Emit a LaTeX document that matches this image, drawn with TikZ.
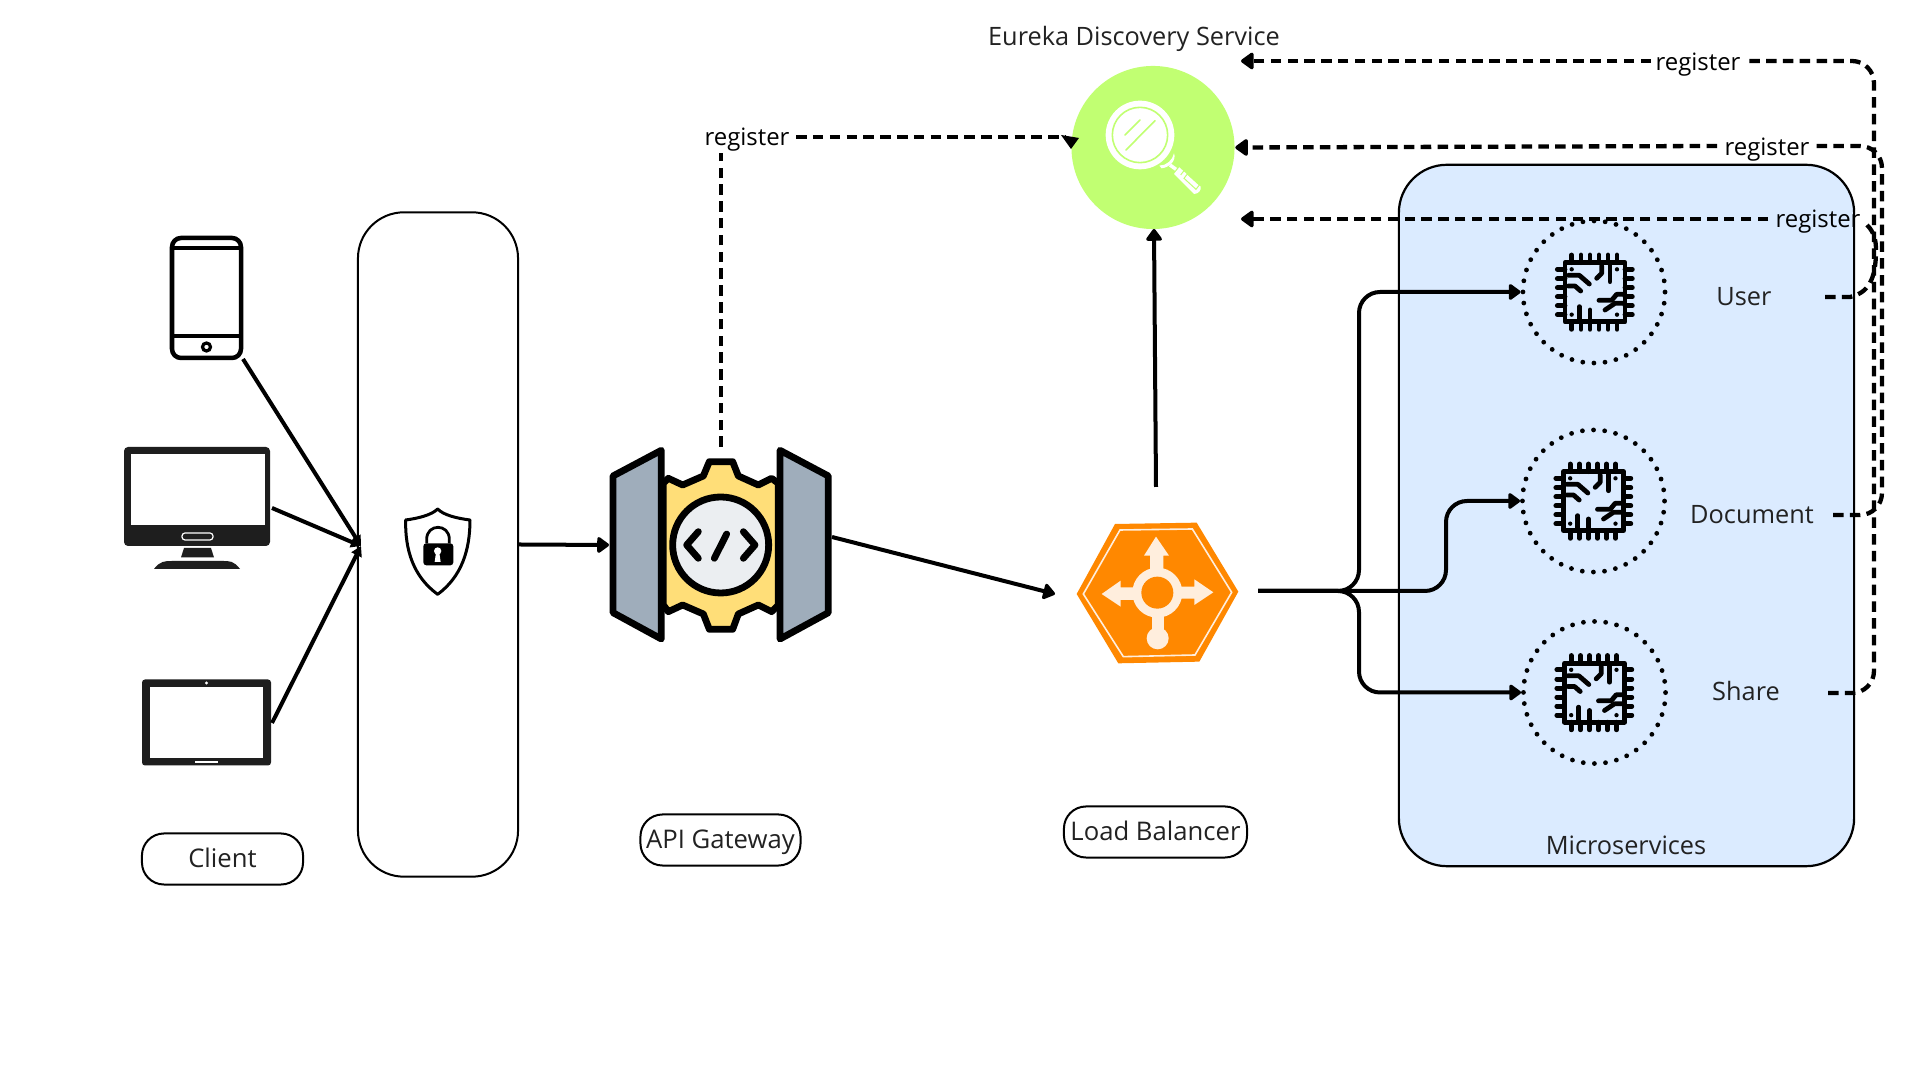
\documentclass[tikz,border=0pt]{standalone}
\usepackage{fontspec}
\setmainfont{Open Sans}
\usetikzlibrary{arrows.meta}
\definecolor{eurekagreen}{HTML}{C1FF72}
\definecolor{msblue}{HTML}{DBEBFF}
\definecolor{lborange}{HTML}{FF8800}
\definecolor{lbcream}{HTML}{FFEEDD}
\definecolor{gwgrey}{HTML}{9FADBB}
\definecolor{gwyellow}{HTML}{FFDE78}
\definecolor{gwlens}{HTML}{EBEEF1}
\definecolor{ink}{HTML}{222222}
\definecolor{devdark}{HTML}{1E1E1E}
\tikzset{
  wire/.style={line width=.04cm,black},
  solidarrow/.style={wire,-{Triangle[length=.13cm,width=.18cm,round]}},
  dashwire/.style={wire,line width=.043cm,dash pattern=on .105cm off .063cm},
  dasharrow/.style={dashwire,-{Triangle[length=.14cm,width=.19cm,round]}},
  lbl/.style={inner sep=0pt,text=ink,font=\fontsize{7.2}{9}\selectfont,text height=.24cm,text depth=.06cm},
  reglbl/.style={inner sep=0pt,text=black,font=\fontsize{6.8}{9}\selectfont,text height=.24cm,text depth=.06cm},
  pill/.style={lbl,font=\fontsize{7.3}{9}\selectfont,draw=black,line width=.02cm,rectangle,rounded corners=.22cm},
  service/.style={circle,inner sep=0pt,minimum size=1.42cm,draw=black,line width=.048cm,line cap=round,dash pattern=on 0pt off .1115cm},
  chipline/.style={black,line width=.048cm,line cap=round,line join=round},
}
\newcommand{\chipicon}[2]{%
  \begin{scope}[shift={(#1,#2)},scale=1/3]
    \draw[chipline] (135,68) rectangle (315,245);
    \foreach \p in {155,183,210,237,264,291} {
      \draw[chipline] (\p,45) -- (\p,68);
      \draw[chipline] (\p,245) -- (\p,268);
    }
    \foreach \p in {88,116,143,170,197,224} {
      \draw[chipline] (112,\p) -- (135,\p);
      \draw[chipline] (315,\p) -- (337,\p);
    }
    \foreach \a/\b in {155/88,291/88,155/224,291/224} \fill (\a,\b) circle (6.5);
    \draw[chipline] (145,106) -- (178,106) -- (208,132);
    \draw[chipline] (145,138) -- (165,138) -- (182,153);
    \draw[chipline] (270,75) -- (270,125);
    \draw[chipline] (245,78) -- (245,100) -- (230,115);
    \draw[chipline] (237,181) -- (275,181) -- (290,163) -- (312,163);
    \draw[chipline] (255,210) -- (285,190) -- (312,190);
    \draw[chipline] (178,200) -- (178,240);
    \draw[chipline] (210,210) -- (210,240);
  \end{scope}}
\begin{document}
\begin{tikzpicture}[x=.01cm,y=-.01cm]
\useasboundingbox (0,0) rectangle (1920,1080);
\fill[white] (0,0) rectangle (1920,1080);

% containers
\node[draw=black,line width=.02cm,rectangle,rounded corners=.46cm,minimum width=1.60cm,minimum height=6.64cm,inner sep=0pt] (sec) at (438,544.5) {};
\node[draw=black,fill=msblue,line width=.022cm,rectangle,rounded corners=.48cm,minimum width=4.55cm,minimum height=7.01cm,inner sep=0pt] (ms) at (1626.5,515.5) {};
\node[circle,fill=eurekagreen,minimum size=1.63cm,inner sep=0pt] (eureka) at (1153,147.5) {};
\node[service] (user) at (1594,292) {};
\node[service] (doc) at (1593.5,501) {};
\node[service] (share) at (1594.5,692.5) {};

% phone
\draw[black,line width=.045cm,rounded corners=.09cm] (172,238) rectangle (241,358);
\draw[black,line width=.032cm] (172,248) -- (241,248) (172,336) -- (241,336);
\draw[black,line width=.032cm] (206.5,347) circle (4);
% monitor
\fill[devdark,rounded corners=.04cm] (124,447) rectangle (270,546);
\fill[white] (131,454) rectangle (265,525);
\draw[white,line width=.012cm,rounded corners=.03cm] (182,533) rectangle (213,540);
\fill[devdark] (184,548) -- (211,548) -- (214,557.5) -- (181,557.5) -- cycle;
\fill[devdark] (154,569) .. controls (160,561) and (165,561) .. (172,561) -- (222,561) .. controls (230,561) and (234,561) .. (240,569) -- cycle;
% tablet
\fill[devdark,rounded corners=.03cm] (142,679.5) rectangle (271,765.5);
\fill[white] (149.5,687) rectangle (263,758);
\fill[white] (206.5,683) circle (1.6);
\draw[white,line width=.012cm] (195,762) -- (218,762);

% shield
\begin{scope}[shift={(390,500)},scale=1/3]
  \draw[black,line width=.03cm,line join=round,fill=white] (143,27) .. controls (125,45) and (85,55) .. (47,60) .. controls (45,150) and (70,230) .. (143,283) .. controls (215,230) and (240,150) .. (240,60) .. controls (200,55) and (160,45) .. cycle;
  \draw[black,line width=.028cm] (110,130) -- (110,118) .. controls (110,70) and (178,70) .. (178,118) -- (178,130);
  \fill[black,rounded corners=.03cm] (100,130) rectangle (190,196);
  \fill[white] (143,153) circle (11);
  \fill[white] (138,158) -- (134,186) -- (152,186) -- (148,158) -- cycle;
\end{scope}

% gateway
\begin{scope}[shift={(600,440)},scale=1/3,line width=.068cm,line join=round,draw=black]
  \draw[fill=gwyellow] (190,130) -- (205,115) -- (248,135) -- (310,108) -- (328,65) -- (398,65) -- (415,108) -- (475,135) -- (515,115) -- (535,130) -- (535,495) -- (515,515) -- (475,495) -- (415,522) -- (398,568) -- (328,568) -- (310,522) -- (248,495) -- (205,515) -- (190,495) -- cycle;
  \draw[fill=gwgrey] (39,108) -- (184,31) -- (184,597) -- (39,518) -- cycle;
  \draw[fill=gwgrey] (540,31) -- (685,108) -- (685,518) -- (540,597) -- cycle;
  \draw[fill=gwlens] (362,315) circle (144);
  \begin{scope}[line cap=round]
    \draw (295,275) -- (260,315) -- (295,355);
    \draw (380,282) -- (343,355);
    \draw (430,275) -- (465,315) -- (430,355);
  \end{scope}
\end{scope}

% load balancer
\begin{scope}[shift={(1070,510)},scale=1/3]
  \fill[lborange] (135,42) -- (380,38) -- (505,245) -- (388,455) -- (145,460) -- (20,252) -- cycle;
  \draw[lbcream,line width=.016cm] (150,60) -- (367,57) -- (485,247) -- (375,435) -- (160,440) -- (40,252) -- cycle;
  \fill[lbcream] (262,248) circle (75);
  \fill[lbcream] (258,80) -- (297,137) -- (280,137) -- (280,200) -- (240,200) -- (240,137) -- (222,137) -- cycle;
  \fill[lbcream] (95,252) -- (152,212) -- (152,232) -- (220,232) -- (220,270) -- (152,270) -- (152,290) -- cycle;
  \fill[lbcream] (430,247) -- (373,208) -- (373,230) -- (310,230) -- (310,266) -- (373,266) -- (373,285) -- cycle;
  \fill[lbcream] (245,300) rectangle (283,370);
  \fill[lbcream] (263,385) circle (33);
  \fill[lborange] (262,248) circle (48);
\end{scope}

% magnifier
\begin{scope}[shift={(1050,50)},scale=1/3]
  \fill[white] (270,255) circle (103);
  \draw[eurekagreen,line width=.016cm] (270,255) circle (83);
  \draw[eurekagreen,line width=.016cm,line cap=round] (225,255) -- (270,210) (228,300) -- (315,212);
  \fill[white] (328,347) .. controls (350,347) and (368,330) .. (372,310) .. controls (380,330) and (360,352) .. (335,355) -- cycle;
  \draw[white,line width=.035cm] (360,345) -- (378,358);
  \fill[white] (388,352) -- (452,410) .. controls (455,420) and (445,432) .. (432,432) -- (372,372) -- cycle;
  \draw[eurekagreen,line width=.01cm] (392,375) -- (405,358) (402,385) -- (438,418) -- (448,405) -- (412,372) -- cycle;
\end{scope}

\chipicon{1520}{240}
\chipicon{1518.5}{449}
\chipicon{1519.5}{640.5}

% connector ends
\coordinate (hub) at (361,546);
\coordinate (phoneEnd) at (243,359);
\coordinate (monitorEnd) at (272,508);
\coordinate (tabletEnd) at (272,723);
\coordinate (gwIn) at (609,545);
\coordinate (gwOut) at (832,537);
\coordinate (gwTop) at (721,447);
\coordinate (lbIn) at (1055,594);
\coordinate (lbTop) at (1156,487);
\coordinate (lbOut) at (1258,591);
\coordinate (topTip) at (1241,61);
\coordinate (thirdTip) at (1241,219);
\coordinate (gwRegEnd) at (1066,137);

\draw[solidarrow,{-{Triangle[length=.1cm,width=.11cm]}}] (phoneEnd) -- (hub);
\draw[solidarrow,{-{Triangle[length=.1cm,width=.11cm]}}] (monitorEnd) -- (hub);
\draw[solidarrow,{-{Triangle[length=.1cm,width=.11cm]}}] (tabletEnd) -- (hub);
\draw[solidarrow] (sec.east) -- (gwIn);
\draw[solidarrow] (gwOut) -- (lbIn);
\draw[solidarrow] (lbTop) -- (1154,229);

\draw[solidarrow,rounded corners=.21cm] (lbOut) -- (1359,591) -- (1359,292) -- (user.west);
\draw[solidarrow,rounded corners=.21cm] (lbOut) -- (1446,591) -- (1446,501) -- (doc.west);
\draw[solidarrow,rounded corners=.21cm] (lbOut) -- (1359,591) -- (1359,692.5) -- (share.west);

% register labels
\node[reglbl] (regGw) at (747,137) {register};
\node[reglbl] (regTop) at (1698,62) {register};
\node[reglbl] (regDoc) at (1767,147) {register};
\node[reglbl] (regUser) at (1818,219) {register};

% register connectors
\draw[dashwire] (gwTop) -- (721,153);
\draw[dashwire] (regGw.east)++(6,0) -- (gwRegEnd);
\fill[black,line join=round] (1061,135) -- (1079,138) -- (1071,149) -- cycle;

\draw[dashwire,rounded corners=.22cm] (1828,693) -- (1874,693) -- (1874,61) -- (1746,61);
\draw[dasharrow] (1651,61) -- (topTip);

\draw[dashwire,rounded corners=.22cm] (1833,515) -- (1882,515) -- (1882,146) -- (1816,146);
\draw[dasharrow] (1717,146) -- (eureka.east);

\draw[dashwire] (1825,297) -- (1850,297) .. controls (1868,293) and (1876,280) .. (1876,250) .. controls (1876,240) and (1874,232) .. (1867,225);
\draw[dasharrow] (1768,219) -- (thirdTip);

% texts
\node[lbl] (tEureka) at (1134,37) {Eureka Discovery Service};
\node[lbl] (tUser) at (1744,297) {User};
\node[lbl] (tDoc) at (1752,515) {Document};
\node[lbl] (tShare) at (1746,692) {Share};
\node[lbl] (tMs) at (1626,846) {Microservices};
\node[pill,minimum width=1.61cm,minimum height=.51cm] (client) at (222.5,859) {Client};
\node[pill,minimum width=1.60cm,minimum height=.51cm] (api) at (720.5,840) {API Gateway};
\node[pill,minimum width=1.83cm,minimum height=.51cm] (lb) at (1155.5,832) {Load Balancer};
\end{tikzpicture}
\end{document}
